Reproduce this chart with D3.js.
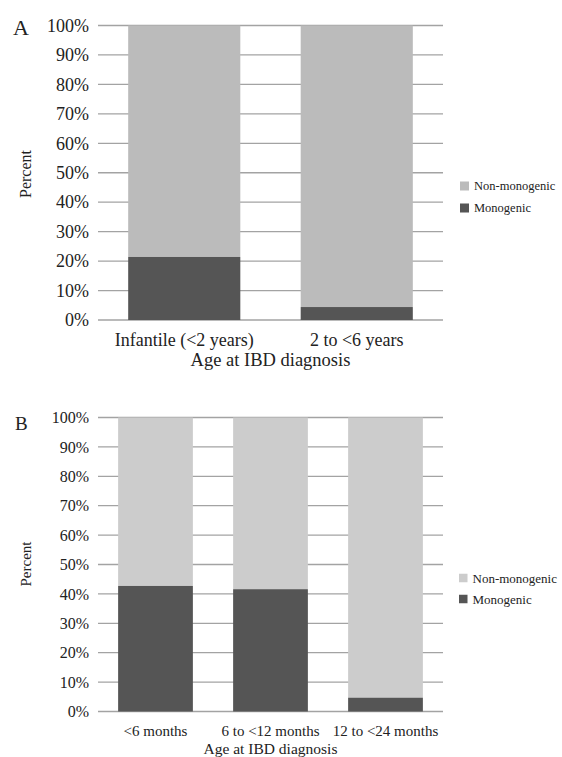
<!DOCTYPE html>
<html><head><meta charset="utf-8">
<script src="https://cdn.jsdelivr.net/npm/d3@7"></script>
<style>body{margin:0;background:#fff}svg{display:block}text{font-family:"Liberation Serif","Times New Roman",serif;fill:#222}</style>
</head><body>
<svg id="c" width="562" height="757"></svg>
<script>
const ticks = [0,10,20,30,40,50,60,70,80,90,100];
const seriesNames = ["Non-monogenic","Monogenic"];
const catsA = ["Infantile (<2 years)","2 to <6 years"];
const monoA = [21.4, 4.4];
const catsB = ["<6 months","6 to <12 months","12 to <24 months"];
const monoB = [42.7, 41.6, 4.7];

const svg = d3.select("#c");

function panel(o){
  const g = svg.append("g");
  const x = d3.scaleBand().domain(o.cats).range([98,443]).paddingInner(0.35).paddingOuter(0.175);
  const y = d3.scaleLinear().domain([0,100]).range([o.y0,o.y1]);
  // gridlines
  g.selectAll("line.grid").data(ticks).join("line")
    .attr("x1",98).attr("x2",443).attr("y1",d=>y(d)).attr("y2",d=>y(d))
    .attr("stroke","#a3a3a3").attr("stroke-width",1.3);
  // y tick labels
  const ya = d3.axisLeft(y).tickValues(ticks).tickFormat(d=>d+"%").tickSize(0).tickPadding(9);
  const yg = g.append("g").attr("transform","translate(98,0)").call(ya);
  yg.select(".domain").remove();
  yg.selectAll("text").style("font-family","Liberation Serif").style("font-size",o.tickFs+"px").attr("fill","#222");
  // bars
  const data = o.cats.map((c,i)=>({c, m:o.mono[i]}));
  g.selectAll("rect.non").data(data).join("rect")
    .attr("x",d=>x(d.c)).attr("width",x.bandwidth())
    .attr("y",y(100)).attr("height",d=>y(d.m)-y(100)).attr("fill",o.nonCol);
  g.selectAll("rect.mono").data(data).join("rect")
    .attr("x",d=>x(d.c)).attr("width",x.bandwidth())
    .attr("y",d=>y(d.m)).attr("height",d=>y(0)-y(d.m)).attr("fill","#555555");
  // x labels
  const xa = d3.axisBottom(x).tickSize(0).tickPadding(0);
  const xg = g.append("g").attr("transform",`translate(0,${o.y0})`).call(xa);
  xg.select(".domain").remove();
  xg.selectAll("text").attr("dy",null).attr("y",o.xlabDy).style("font-family","Liberation Serif").style("font-size",o.xFs+"px").attr("fill","#222");
  // x title
  g.append("text").attr("x",270.5).attr("y",o.xTitleY).attr("text-anchor","middle").style("font-size",o.titleFs+"px").text("Age at IBD diagnosis");
  // y title
  g.append("text").attr("transform",`translate(${o.pX},${o.pY}) rotate(-90)`).attr("text-anchor","middle").style("font-size",o.pFs+"px").text("Percent");
  // panel letter
  g.append("text").attr("x",o.lx).attr("y",o.ly).style("font-size",o.lFs+"px").text(o.letter);
  // legend
  const lg = g.append("g");
  const cols = [o.nonCol,"#555555"];
  seriesNames.forEach((s,i)=>{
    lg.append("rect").attr("x",o.legX).attr("y",o.legY[i]-o.sq/2).attr("width",o.sq).attr("height",o.sq).attr("fill",cols[i]);
    lg.append("text").attr("x",o.legX+o.sq+5).attr("y",o.legY[i]).attr("dy","0.35em").style("font-size",o.legFs+"px").text(s);
  });
}

panel({cats:catsA, mono:monoA, y0:320, y1:25.5, nonCol:"#bbbbbb", tickFs:18, xFs:18, titleFs:18.5, xlabDy:26, xTitleY:366,
  pX:31, pY:174, pFs:16, letter:"A", lx:13, ly:35, lFs:22, legX:460, legY:[186,208], sq:9, legFs:12.5});
panel({cats:catsB, mono:monoB, y0:711.5, y1:417.5, nonCol:"#cccccc", tickFs:16, xFs:15, titleFs:15.5, xlabDy:24, xTitleY:754,
  pX:31, pY:564, pFs:15, letter:"B", lx:15, ly:430, lFs:19, legX:459, legY:[578,599], sq:8.5, legFs:13});
</script>
</body></html>
